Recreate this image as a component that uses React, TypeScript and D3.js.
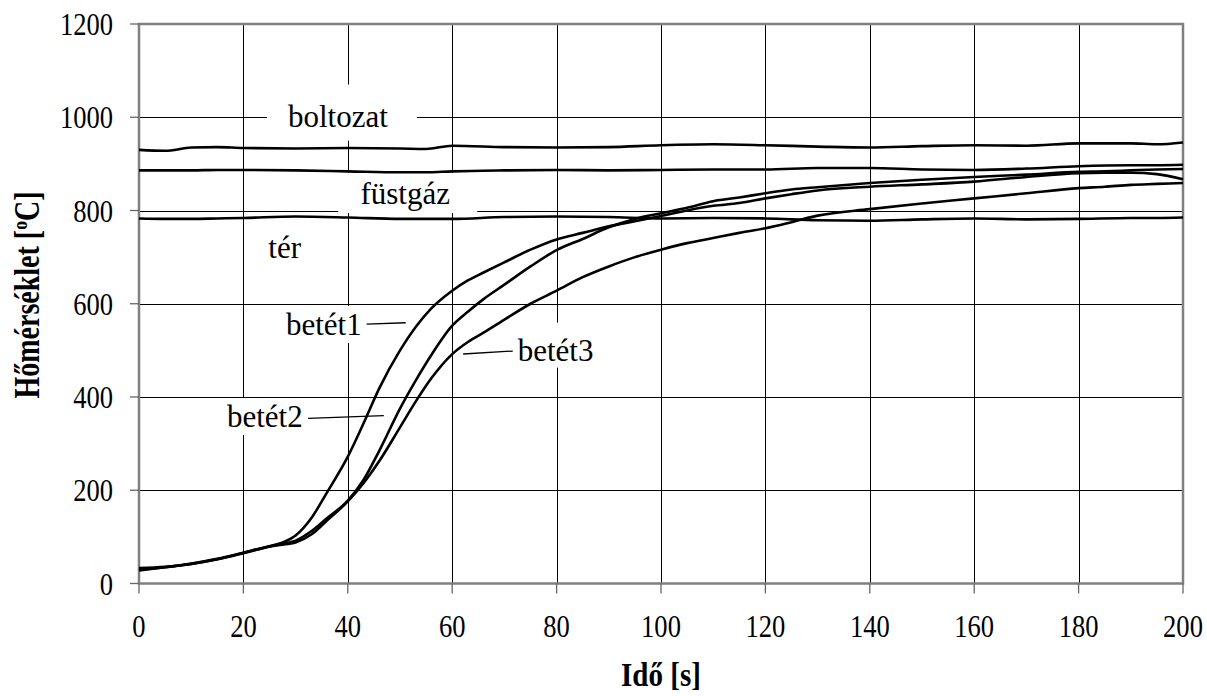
import React from "react";
import * as d3 from "d3";

// ---- data ----
const time = [0,5,10,15,20,25,28,30,33,36,40,43,46,50,53,56,60,63,66,70,75,80,85,90,95,100,105,110,115,120,125,130,140,150,160,170,180,185,190,195,200];
const betet1 = [28,35,43,53,66,80,90,103,140,195,272,343,418,500,550,590,628,650,667,689,716,738,752,766,777,788,800,810,816,826,835,843,851,856,862,872,880,881,881,878,867];
const betet2 = [33,36,42,52,66,80,86,92,112,140,178,222,284,375,435,490,553,583,610,641,680,715,739,764,782,794,806,820,828,837,845,850,859,866,872,877,883,884,886,888,889];
const betet3 = [30,35,42,52,65,79,84,88,105,135,176,215,262,335,390,440,492,518,538,566,600,628,657,680,700,716,730,741,752,762,775,789,803,815,826,837,848,851,855,857,859];

const flatTime = [0,5,10,15,20,30,40,50,55,60,70,80,90,100,110,120,130,140,150,160,170,180,190,195,200];
const boltozat = [930,928,935,936,934,933,934,933,932,939,936,935,936,940,942,940,937,935,938,940,939,944,944,942,946];
const fustgaz = [886,886,886,887,887,886,884,882,882,884,886,887,886,887,888,888,891,891,888,887,890,895,897,897,898];
const ter = [783,782,782,783,784,787,785,782,782,782,786,787,786,783,784,783,779,778,781,783,781,782,784,784,785];

const xTicks = [0,20,40,60,80,100,120,140,160,180,200];
const yTicks = [0,200,400,600,800,1000,1200];

// labels: text, anchor (t, v) = text centre / baseline in data units
const labels = [
  { text: "boltozat", t: 38.1, v: 980, box: [-71, 79, -42, 14] },
  { text: "füstgáz", t: 51.0, v: 814, box: [-67, 72, -31, 9] },
  { text: "tér", t: 27.9, v: 698, box: null },
  { text: "betét1", t: 35.4, v: 533, box: [-44, 44, -29, 8] },
  { text: "betét2", t: 24.1, v: 335.6, box: [-43, 41, -29, 8] },
  { text: "betét3", t: 79.8, v: 478, box: [-43, 43, -38, 7] },
];
const leaders = [
  { t1: 43.6, v1: 556.5, t2: 51.1, v2: 559.3 },
  { t1: 32.4, v1: 354.3, t2: 46.9, v2: 359.9 },
  { t1: 62.1, v1: 492.2, t2: 71.6, v2: 498.6 },
];

const W = 1207, H = 696;
const L = 139, R = 1183, T = 24, B = 583.5;

export default function App() {
  const x = d3.scaleLinear().domain([0, 200]).range([L, R]);
  const y = d3.scaleLinear().domain([0, 1200]).range([B, T]);
  const line = (ts: number[], vs: number[]) =>
    d3.line<number>().x((_, i) => x(ts[i])).y((d) => y(d)).curve(d3.curveMonotoneX)(vs) || "";

  const serif = "'Liberation Serif', 'Times New Roman', serif";
  const series = [
    { t: flatTime, v: boltozat },
    { t: flatTime, v: fustgaz },
    { t: flatTime, v: ter },
    { t: time, v: betet1 },
    { t: time, v: betet2 },
    { t: time, v: betet3 },
  ];

  return (
    <svg width={W} height={H} style={{ position: "absolute", left: 0, top: 0, background: "#fff" }}>
      <rect x={0} y={0} width={W} height={H} fill="#fff" />
      {/* grid */}
      {xTicks.slice(1, -1).map((t) => (
        <line key={"gx" + t} x1={Math.round(x(t)) + 0.5} x2={Math.round(x(t)) + 0.5} y1={T} y2={B} stroke="#000" strokeWidth={1} shapeRendering="crispEdges" />
      ))}
      {yTicks.slice(1, -1).map((v) => (
        <line key={"gy" + v} x1={L} x2={R} y1={Math.round(y(v)) + 0.5} y2={Math.round(y(v)) + 0.5} stroke="#000" strokeWidth={1} shapeRendering="crispEdges" />
      ))}
      {/* label boxes */}
      {labels.map((lb) =>
        lb.box ? (
          <rect key={"b" + lb.text} x={x(lb.t) + lb.box[0]} y={y(lb.v) + lb.box[2]} width={lb.box[1] - lb.box[0]} height={lb.box[3] - lb.box[2]} fill="#fff" />
        ) : null
      )}
      {/* frame */}
      <rect x={L} y={T} width={R - L} height={B - T} fill="none" stroke="#808080" strokeWidth={2.5} />
      {/* ticks */}
      {yTicks.map((v) => (
        <line key={"ty" + v} x1={130} x2={L} y1={y(v)} y2={y(v)} stroke="#666" strokeWidth={1.3} />
      ))}
      {xTicks.map((t) => (
        <line key={"tx" + t} x1={x(t)} x2={x(t)} y1={B} y2={B + 10} stroke="#666" strokeWidth={1.3} />
      ))}
      {/* tick labels */}
      {yTicks.map((v) => (
        <text key={"ly" + v} transform={`translate(113,${y(v) + 11}) scale(0.83,1)`} textAnchor="end" fontFamily={serif} fontSize={32} fill="#000">
          {v}
        </text>
      ))}
      {xTicks.map((t) => (
        <text key={"lx" + t} transform={`translate(${x(t)},636.7) scale(0.83,1)`} textAnchor="middle" fontFamily={serif} fontSize={32} fill="#000">
          {t}
        </text>
      ))}
      {/* axis titles */}
      <text transform={`translate(661,686) scale(0.88,1)`} textAnchor="middle" fontFamily={serif} fontWeight="bold" fontSize={33} fill="#000">
        Idő [s]
      </text>
      <text transform={`translate(39,295) rotate(-90) scale(0.8,1)`} textAnchor="middle" fontFamily={serif} fontWeight="bold" fontSize={35} fill="#000">
        Hőmérséklet [<tspan fontSize={22} dy={-12}>o</tspan><tspan dy={12}>C]</tspan>
      </text>
      {/* series labels */}
      {labels.map((lb) => (
        <text key={"t" + lb.text} x={x(lb.t)} y={y(lb.v)} textAnchor="middle" fontFamily={serif} fontSize={31} fill="#000">
          {lb.text}
        </text>
      ))}
      {leaders.map((ld, i) => (
        <line key={"ld" + i} x1={x(ld.t1)} y1={y(ld.v1)} x2={x(ld.t2)} y2={y(ld.v2)} stroke="#000" strokeWidth={1.3} />
      ))}
      {/* data lines */}
      {series.map((s, i) => (
        <path key={"s" + i} d={line(s.t, s.v)} fill="none" stroke="#000" strokeWidth={2.6} strokeLinejoin="round" />
      ))}
    </svg>
  );
}
